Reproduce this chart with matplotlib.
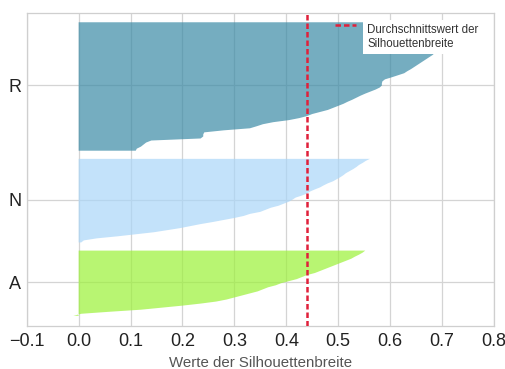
import numpy as np
import matplotlib
matplotlib.use("Agg")
import matplotlib.pyplot as plt

plt.rcParams["font.family"] = ["Liberation Sans", "DejaVu Sans"]

# Cluster names (bottom to top) and their sorted silhouette widths
cluster_labels = ["A", "N", "R"]

sil_A = [-0.01, 0.005, 0.06, 0.12, 0.16, 0.2, 0.235, 0.265, 0.285, 0.3,
         0.315, 0.33, 0.345, 0.355, 0.365, 0.38, 0.39, 0.405, 0.42, 0.43,
         0.44, 0.455, 0.465, 0.475, 0.485, 0.495, 0.505, 0.515, 0.525,
         0.532, 0.54, 0.547, 0.552]

sil_N = [0.005, 0.01, 0.035, 0.075, 0.11, 0.145, 0.17, 0.195, 0.215, 0.235,
         0.258, 0.279, 0.3, 0.318, 0.33, 0.35, 0.36, 0.37, 0.385, 0.395,
         0.405, 0.412, 0.418, 0.43, 0.44, 0.446, 0.455, 0.465, 0.472, 0.48,
         0.49, 0.497, 0.504, 0.51, 0.515, 0.522, 0.529, 0.535, 0.54, 0.547,
         0.553, 0.561]

sil_R = [0.11, 0.112, 0.12, 0.125, 0.13, 0.14,
         0.235, 0.24, 0.24, 0.242,
         0.28, 0.33, 0.343, 0.355, 0.375, 0.405, 0.425, 0.44,
         0.45, 0.465, 0.48, 0.49, 0.5, 0.51, 0.518, 0.527, 0.535, 0.543,
         0.552, 0.562, 0.572, 0.58, 0.584, 0.584, 0.585, 0.59, 0.603, 0.615,
         0.627, 0.633, 0.64, 0.646, 0.652, 0.658, 0.664, 0.67, 0.676, 0.682,
         0.686, 0.69,
         0.69, 0.695, 0.695, 0.70, 0.70, 0.70, 0.705, 0.705, 0.71, 0.71,
         0.715, 0.72, 0.725, 0.73]

cluster_values = [sil_A, sil_N, sil_R]
cluster_colors = ["#9bf137", "#aad6f8", "#3a8aa6"]

silhouette_avg = 0.44
x_ticks = [-0.1, 0.0, 0.1, 0.2, 0.3, 0.4, 0.5, 0.6, 0.7, 0.8]

fig = plt.figure(figsize=(5.06, 3.69), dpi=100)
ax = fig.add_axes([0.0528, 0.1165, 0.9235, 0.848])

# Stack one silhouette band per cluster
y_lower = 5
tick_pos = []
for vals, color in zip(cluster_values, cluster_colors):
    n = len(vals)
    y_upper = y_lower + n
    ax.fill_betweenx(np.arange(y_lower, y_upper), 0, vals,
                     facecolor=color, edgecolor="none", alpha=0.7, zorder=2)
    tick_pos.append(y_lower + 0.5 * n)
    y_lower = y_upper + 3

ax.axvline(silhouette_avg, color="#e0203a", lw=1.8,
           linestyle=(0, (2.2, 1.2)), zorder=3,
           label="Durchschnittswert der\nSilhouettenbreite")

ax.set_xlim(-0.1, 0.8)
ax.set_ylim(0, 153.5)
ax.set_xticks(x_ticks)
ax.set_yticks(tick_pos)
ax.set_yticklabels(cluster_labels)

ax.set_facecolor("white")
ax.grid(True, color="#d4d4d4", lw=0.9)
ax.set_axisbelow(True)
for sp in ax.spines.values():
    sp.set_color("#cfcfcf")
    sp.set_linewidth(0.9)

ax.tick_params(axis="x", length=0, pad=5, labelsize=13, labelcolor="#222222")
ax.tick_params(axis="y", length=0, pad=4, labelsize=13, labelcolor="#222222")
ax.set_xlabel("Werte der Silhouettenbreite", fontsize=10.8, color="#555555",
              labelpad=4)

leg = ax.legend(loc="upper left", bbox_to_anchor=(0.66, 0.966),
                frameon=False, fontsize=8.3, handlelength=1.8,
                handletextpad=1.0, borderaxespad=0, borderpad=0)
for t in leg.get_texts():
    t.set_color("#333333")
    t.set_bbox(dict(facecolor="white", edgecolor="none", pad=3))
# raise the legend line to sit beside the first text line
handle = leg.legend_handles[0]
handle.set_ydata(np.asarray(handle.get_ydata()) + 8.5)

fig.savefig("out.png", dpi=100, facecolor="white")
